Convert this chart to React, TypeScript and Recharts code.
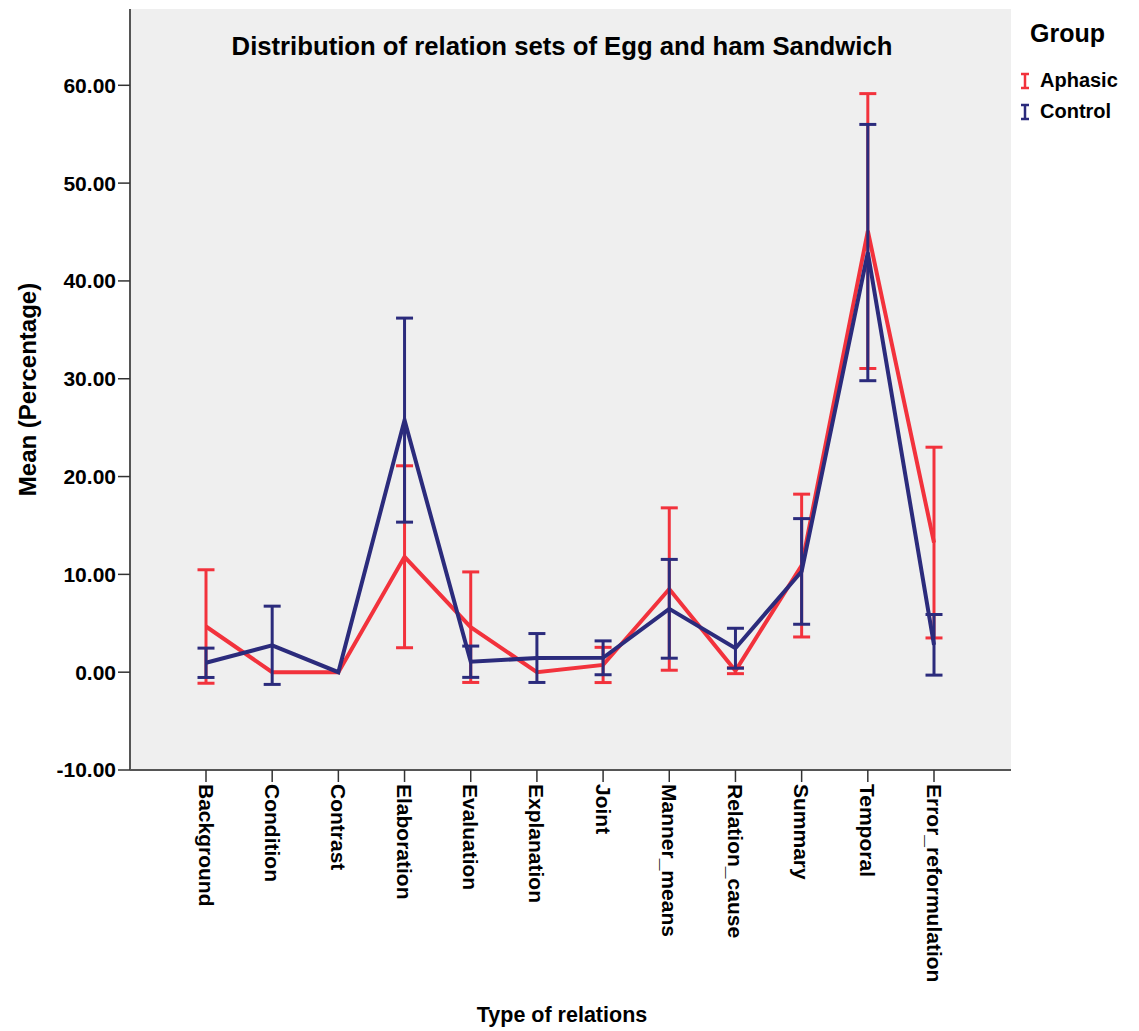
import { LineChart, Line, XAxis, YAxis, CartesianGrid, ErrorBar, Label } from "recharts";

const relations = [
  "Background", "Condition", "Contrast", "Elaboration", "Evaluation", "Explanation",
  "Joint", "Manner_means", "Relation_cause", "Summary", "Temporal", "Error_reformulation",
];

// mean and half-width of the error bar
const aphasicMean = [4.67, 0, 0, 11.8, 4.6, 0, 0.74, 8.5, 0.15, 10.9, 45.1, 13.25];
const aphasicErr = [5.8, 0, 0, 9.3, 5.65, 0, 1.8, 8.3, 0.3, 7.3, 14.05, 9.75];
const controlMean = [0.96, 2.75, 0, 25.77, 1.07, 1.45, 1.47, 6.48, 2.45, 10.3, 42.9, 2.8];
const controlErr = [1.5, 4.0, 0, 10.43, 1.6, 2.5, 1.73, 5.05, 2.04, 5.4, 13.1, 3.1];

const yTicks = [-10, 0, 10, 20, 30, 40, 50, 60];

const RED = "#f2323c";
const BLUE = "#2b2b7c";
const FONT = "'Liberation Sans', Arial, sans-serif";

const data = relations.map((name, i) => ({
  name,
  aphasic: aphasicMean[i],
  aphasicErr: aphasicErr[i],
  control: controlMean[i],
  controlErr: controlErr[i],
}));

const XTick = ({ x, y, payload }: any) => (
  <text
    transform={`translate(${x},${y}) rotate(90)`}
    textAnchor="start"
    dominantBaseline="central"
    fontFamily={FONT}
    fontWeight="bold"
    fontSize={21}
    fill="#000"
  >
    {payload.value}
  </text>
);

const YLabel = ({ viewBox }: any) => {
  const cx = 27;
  const cy = viewBox.y + viewBox.height / 2;
  return (
    <text
      transform={`translate(${cx},${cy}) rotate(-90)`}
      textAnchor="middle"
      dominantBaseline="central"
      fontFamily={FONT}
      fontWeight="bold"
      fontSize={24}
      fill="#000"
    >
      Mean (Percentage)
    </text>
  );
};

const XLabel = ({ viewBox }: any) => (
  <text
    x={562}
    y={viewBox.y + viewBox.height - 9}
    textAnchor="middle"
    fontFamily={FONT}
    fontWeight="bold"
    fontSize={21.5}
    fill="#000"
  >
    Type of relations
  </text>
);

const BarIcon = ({ color }: { color: string }) => (
  <svg width={10} height={18} style={{ marginRight: 10 }}>
    <line x1={1} y1={2} x2={9} y2={2} stroke={color} strokeWidth={2.5} />
    <line x1={5} y1={2} x2={5} y2={16} stroke={color} strokeWidth={2.5} />
    <line x1={1} y1={16} x2={9} y2={16} stroke={color} strokeWidth={2.5} />
  </svg>
);

export default function App() {
  return (
    <div style={{ position: "absolute", left: 0, top: 0, width: 1139, height: 1031, background: "#fff" }}>
      <LineChart
        width={1139}
        height={1031}
        data={data}
        margin={{ top: 9, right: 128, left: 0, bottom: 0 }}
      >
        <CartesianGrid fill="#efefef" horizontal={false} vertical={false} />
        <XAxis
          dataKey="name"
          padding={{ left: 76, right: 77 }}
          height={261}
          interval={0}
          tick={<XTick />}
          tickSize={12}
          tickMargin={2}
          axisLine={{ stroke: "#555", strokeWidth: 2 }}
          tickLine={{ stroke: "#333", strokeWidth: 1.5 }}
        >
          <Label content={<XLabel />} />
        </XAxis>
        <XAxis xAxisId="top" dataKey="name" orientation="top" height={0} tick={false} tickLine={false}
          axisLine={{ stroke: "#555", strokeWidth: 2 }} />
        <YAxis
          width={130}
          domain={[-10, 67.8]}
          ticks={yTicks}
          allowDataOverflow
          tickFormatter={(v: number) => v.toFixed(2)}
          tickSize={12}
          tickMargin={2}
          tick={{ fontFamily: FONT, fontWeight: "bold", fontSize: 21, fill: "#000" }}
          axisLine={{ stroke: "#555", strokeWidth: 2 }}
          tickLine={{ stroke: "#333", strokeWidth: 1.5 }}
        >
          <Label content={<YLabel />} />
        </YAxis>
        <YAxis yAxisId="right" orientation="right" width={0} tick={false} tickLine={false}
          axisLine={{ stroke: "#555", strokeWidth: 2 }} />
        <Line
          dataKey="aphasic"
          stroke={RED}
          strokeWidth={4}
          dot={false}
          activeDot={false}
          isAnimationActive={false}
        >
          <ErrorBar dataKey="aphasicErr" width={8.5} stroke={RED} strokeWidth={3} isAnimationActive={false} />
        </Line>
        <Line
          dataKey="control"
          stroke={BLUE}
          strokeWidth={4}
          dot={false}
          activeDot={false}
          isAnimationActive={false}
        >
          <ErrorBar dataKey="controlErr" width={8.5} stroke={BLUE} strokeWidth={3} isAnimationActive={false} />
        </Line>
      </LineChart>
      <div
        style={{
          position: "absolute", left: 162, width: 800, top: 32, textAlign: "center",
          fontFamily: FONT, fontWeight: "bold", fontSize: 25.7, color: "#000",
        }}
      >
        Distribution of relation sets of Egg and ham Sandwich
      </div>
      <div style={{ position: "absolute", left: 1020, top: 19, fontFamily: FONT, color: "#000" }}>
        <div style={{ fontWeight: "bold", fontSize: 25, marginLeft: 10, marginBottom: 17 }}>Group</div>
        <div style={{ display: "flex", alignItems: "center", fontWeight: "bold", fontSize: 20, height: 31 }}>
          <BarIcon color={RED} />Aphasic
        </div>
        <div style={{ display: "flex", alignItems: "center", fontWeight: "bold", fontSize: 20, height: 31 }}>
          <BarIcon color={BLUE} />Control
        </div>
      </div>
    </div>
  );
}
